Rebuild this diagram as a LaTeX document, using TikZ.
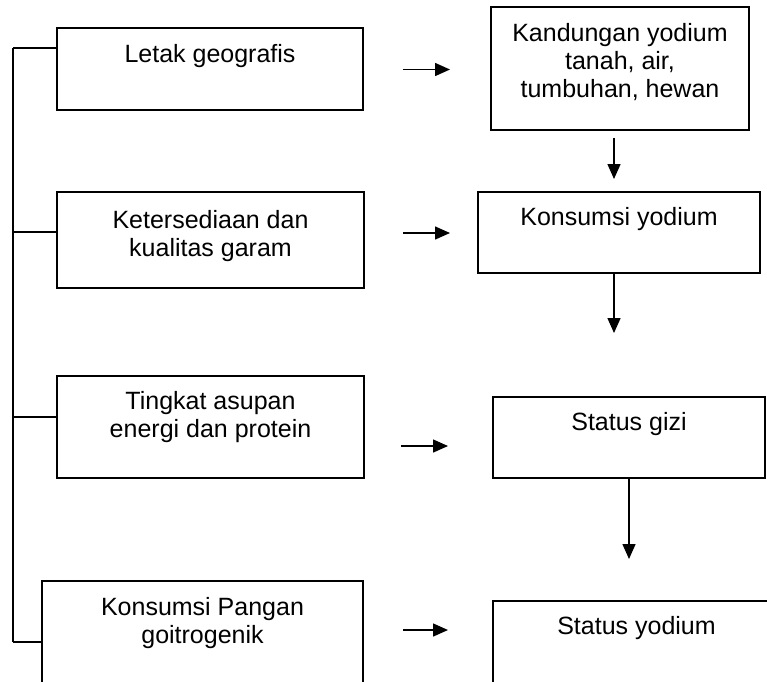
\documentclass[tikz,border=0pt]{standalone}
\usepackage{fontspec}
\setmainfont{Liberation Sans}
\usetikzlibrary{arrows.meta,calc}
\begin{document}
\begin{tikzpicture}[x=1pt,y=-1pt,
  box/.style={draw, line width=1.8pt, rectangle, inner sep=0pt},
  txt/.style={anchor=north, inner sep=0pt, align=center, font=\fontsize{25}{27.8}\selectfont},
  arr/.style={line width=1.5pt, -{Triangle[length=15pt,width=13pt]}},
  lnk/.style={line width=1.8pt}]
\useasboundingbox (0,0) rectangle (767,681);
\clip (0,0) rectangle (767,681);
% left column boxes
\node[box, minimum width=306pt, minimum height=82pt] (b1) at (210,69) {};
\node[box, minimum width=307pt, minimum height=96pt] (b2) at (210.5,240) {};
\node[box, minimum width=307pt, minimum height=102pt] (b3) at (210.5,427) {};
\node[box, minimum width=321pt, minimum height=139pt] (b4) at (202.5,650.5) {};
% right column boxes
\node[box, minimum width=258pt, minimum height=123pt] (bA) at (620,68.5) {};
\node[box, minimum width=282pt, minimum height=81pt] (bB) at (619,232.5) {};
\node[box, minimum width=272pt, minimum height=81pt] (bC) at (629,437.5) {};
\node[box, minimum width=287pt, minimum height=119pt] (bD) at (636.5,660.5) {};
% texts
\node[txt] (t1) at ($(b1.north)+(0,17)$) {Letak geografis};
\node[txt] (t2) at ($(b2.north)+(0,19)$) {Ketersediaan dan\\kualitas garam};
\node[txt] (t3) at ($(b3.north)+(0,16.5)$) {Tingkat asupan\\energi dan protein};
\node[txt] (t4) at ($(b4.north)+(0,17)$) {Konsumsi Pangan\\goitrogenik};
\node[txt] (tA) at ($(bA.north)+(0,17)$) {Kandungan yodium\\tanah, air,\\tumbuhan, hewan};
\node[txt] (tB) at ($(bB.north)+(0,16.5)$) {Konsumsi yodium};
\node[txt] (tC) at ($(bC.north)+(0,16.5)$) {Status gizi};
\node[txt] (tD) at ($(bD.north)+(0,16.5)$) {Status yodium};
% trunk and branches
\coordinate (j1) at (13,48);
\coordinate (j2) at (13,232);
\coordinate (j3) at (13,417);
\coordinate (j4) at (13,642);
\draw[lnk] (j1) -- (j4);
\draw[lnk] (j1) -- (j1 -| b1.west);
\draw[lnk] (j2) -- (j2 -| b2.west);
\draw[lnk] (j3) -- (j3 -| b3.west);
\draw[lnk] (j4) -- (j4 -| b4.west);
% horizontal arrows
\coordinate (h1s) at (403,69.5);  \coordinate (h1e) at (450,69.5);
\coordinate (h2s) at (403,233);   \coordinate (h2e) at (450,233);
\coordinate (h3s) at (401,446);   \coordinate (h3e) at (448,446);
\coordinate (h4s) at (403,630);   \coordinate (h4e) at (448,630);
\draw[arr] (h1s) -- (h1e);
\draw[arr] (h2s) -- (h2e);
\draw[arr] (h3s) -- (h3e);
\draw[arr] (h4s) -- (h4e);
% vertical arrows
\coordinate (v1s) at (614,138); \coordinate (v1e) at (614,179);
\coordinate (v2e) at (614,333);
\coordinate (v3e) at (629,559);
\draw[arr] (v1s) -- (v1e);
\draw[arr] (bB.south -| v2e) -- (v2e);
\draw[arr] (bC.south -| v3e) -- (v3e);
\end{tikzpicture}
\end{document}
